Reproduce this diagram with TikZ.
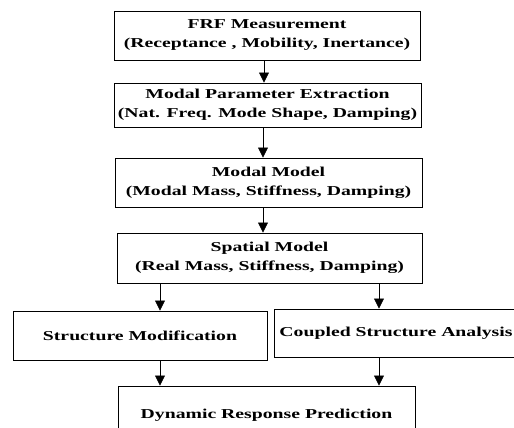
\documentclass[tikz,border=0pt]{standalone}
\usepackage{fontspec}
\setmainfont{Liberation Serif}[FakeStretch=1.45]
\usetikzlibrary{arrows.meta}

\begin{document}
\begin{tikzpicture}[x=1pt, y=-1pt,
	block/.style={draw, line width=0.9pt, align=center, inner sep=0pt,
		font=\bfseries\fontsize{13.6}{19}\selectfont},
	flow/.style={-{Triangle[length=10pt, width=10pt]}, line width=0.7pt}]

	\useasboundingbox (0, 0) rectangle (514, 428);
	\clip (0, 0) rectangle (514, 428);

	% main chain
	\node[block, minimum width=306, minimum height=49] (frf) at (267, 35.5)
		{FRF Measurement\\(Receptance , Mobility, Inertance)};
	\node[block, minimum width=307, minimum height=44] (extract) at (267.5, 105)
		{Modal Parameter Extraction\\(Nat. Freq. Mode Shape, Damping)};
	\node[block, minimum width=307, minimum height=49] (modal) at (268.5, 182.5)
		{Modal Model\\(Modal Mass, Stiffness, Damping)};
	\node[block, minimum width=305, minimum height=50] (spatial) at (269.5, 258)
		{Spatial Model\\(Real Mass, Stiffness, Damping)};

	% two branches, then the prediction
	\node[block, minimum width=254, minimum height=49] (modif) at (140, 335.5)
		{Structure Modification};
	\node[block, minimum width=244, minimum height=48] (coupled) at (396, 333)
		{Coupled Structure Analysis};
	\node[block, minimum width=297, minimum height=58] (predict) at (266.5, 415)
		{Dynamic Response Prediction};

	\coordinate (mid1) at (264, 0);
	\coordinate (mid2) at (263, 0);
	\coordinate (left) at (160, 0);
	\coordinate (right) at (379, 0);

	\draw[flow] (frf.south -| mid1) -- (extract.north -| mid1);
	\draw[flow] (extract.south -| mid2) -- (modal.north -| mid2);
	\draw[flow] (modal.south -| mid2) -- (spatial.north -| mid2);

	\draw[flow] (spatial.south -| left) -- (modif.north -| left);
	\draw[flow] (spatial.south -| right) -- (coupled.north -| right);
	\draw[flow] (modif.south -| left) -- (predict.north -| left);
	\draw[flow] (coupled.south -| right) -- (predict.north -| right);

\end{tikzpicture}
\end{document}
